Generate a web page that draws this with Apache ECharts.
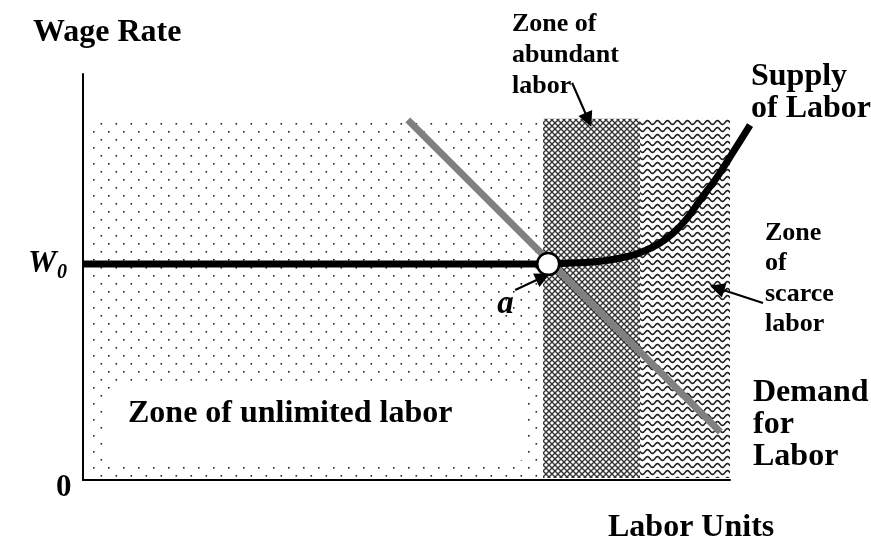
<!DOCTYPE html>
<html><head><meta charset="utf-8">
<script src="https://cdn.jsdelivr.net/npm/echarts@6/dist/echarts.min.js"></script>
<style>html,body{margin:0;padding:0;background:#fff}#c{width:871px;height:548px}</style>
</head><body><div id="c"></div>
<script>
// ---- data (arbitrary units: labor units 0-100 on x, wage rate 0-100 on y) ----
const zoneNames = ['unlimited', 'abundant', 'scarce'];
const zoneStart = [1, 71.1, 86.1];
const zoneEnd = [71.1, 86.1, 100];
const zoneBottom = 0.5;
const zoneTop = 89;
const W0 = 53.2;
const supplyX = [0, 71.9, 73.7, 79.9, 85.0, 88.7, 91.2, 93.4, 95.4, 98.0, 100.5, 103.1];
const supplyY = [53.2, 53.2, 53.3, 53.9, 55.4, 57.9, 60.8, 64.5, 69.0, 74.6, 80.8, 87.4];
const demandX = [50.2, 98.5];
const demandY = [88.7, 11.8];
const pointA = [71.9, 53.2];
const arrowFrom = [[75.6, 97.8], [66.8, 46.8], [105.1, 43.6]];
const arrowTo = [[78.1, 88.7], [71.1, 50.0], [98.0, 47.3]];

// ---- fill textures ----
function mk(w, h, draw) {
  const c = document.createElement('canvas'); c.width = w; c.height = h;
  const g = c.getContext('2d'); draw(g, w, h); return { image: c, repeat: 'repeat' };
}
const patterns = [
  mk(15, 16, (g) => { g.fillStyle = '#fff'; g.fillRect(0, 0, 15, 16); g.fillStyle = '#222';
    g.fillRect(3, 3, 1.6, 1.6); g.fillRect(10.5, 11, 1.6, 1.6); }),
  mk(6, 6, (g) => { g.fillStyle = '#fff'; g.fillRect(0, 0, 6, 6); g.strokeStyle = '#333'; g.lineWidth = 1.35;
    for (const dx of [-6, 0, 6]) { g.beginPath(); g.moveTo(dx, 0); g.lineTo(dx + 6, 6); g.stroke();
      g.beginPath(); g.moveTo(dx + 6, 0); g.lineTo(dx, 6); g.stroke(); } }),
  mk(10, 7, (g) => { g.fillStyle = '#fff'; g.fillRect(0, 0, 10, 7); g.strokeStyle = '#222'; g.lineWidth = 1.6;
    g.beginPath(); for (let x = -1; x <= 11; x += 0.25) { const y = 3.5 + 1.9 * Math.sin(2 * Math.PI * x / 10);
      if (x === -1) g.moveTo(x, y); else g.lineTo(x, y); } g.stroke(); })
];

const chart = echarts.init(document.getElementById('c'), null, { renderer: 'canvas' });
const FONT = '"Liberation Serif", "Times New Roman", serif';

chart.setOption({
  animation: false,
  backgroundColor: '#fff',
  grid: { left: 83, right: 141, top: 74, bottom: 68 },
  xAxis: { type: 'value', min: 0, max: 100, axisLine: { lineStyle: { color: '#000', width: 2 } },
    axisTick: { show: false }, axisLabel: { show: false }, splitLine: { show: false } },
  yAxis: { type: 'value', min: 0, max: 100, axisLine: { show: true, lineStyle: { color: '#000', width: 2 } },
    axisTick: { show: false }, axisLabel: { show: false }, splitLine: { show: false } },
  series: [
    { type: 'custom', silent: true, z: 1,
      data: zoneStart.map((s, i) => [s, zoneEnd[i], zoneBottom, zoneTop, i]),
      encode: { x: [0, 1], y: [2, 3] },
      renderItem: (params, api) => {
        const p0 = api.coord([api.value(0), api.value(3)]);
        const p1 = api.coord([api.value(1), api.value(2)]);
        return { type: 'rect', shape: { x: p0[0], y: p0[1], width: p1[0] - p0[0], height: p1[1] - p0[1] },
          style: { fill: patterns[api.value(4)] } };
      } },
    { type: 'line', name: 'Demand for Labor', z: 3, clip: false, showSymbol: false, silent: true,
      data: demandX.map((x, i) => [x, demandY[i]]),
      lineStyle: { color: '#808080', width: 7, cap: 'butt' } },
    { type: 'custom', name: 'Supply of Labor', z: 4, clip: false, silent: true,
      data: [[supplyX[0], supplyY[0]]],
      encode: { x: 0, y: 1 },
      renderItem: (params, api) => ({
        type: 'polyline',
        shape: { points: supplyX.map((x, i) => api.coord([x, supplyY[i]])), smooth: 0.3 },
        style: { stroke: '#000', lineWidth: 7, fill: null, lineCap: 'butt', lineJoin: 'round' }
      }) },
    { type: 'scatter', z: 5, clip: false, silent: true, data: [pointA], symbolSize: 22,
      itemStyle: { color: '#fff', borderColor: '#000', borderWidth: 2.5, opacity: 1 } },
    { type: 'lines', coordinateSystem: 'cartesian2d', z: 6, clip: false, silent: true,
      symbol: ['none', 'triangle'], symbolSize: [11, 15],
      lineStyle: { color: '#000', width: 2.2, opacity: 1, curveness: 0 },
      data: arrowFrom.map((f, i) => ({ coords: [f, arrowTo[i]] })) }
  ]
});

function txt(str, x, baseline, size, lh, extra) {
  extra = extra || {};
  const padTop = extra.padding ? extra.padding[0] : 0;
  const padLeft = extra.padding ? extra.padding[3] : 0;
  return { type: 'text', z: 100, silent: true,
    x: x - padLeft, y: baseline - 0.305 * size - lh / 2 - padTop,
    style: Object.assign({ text: str, fontFamily: FONT, fontWeight: 'bold', fontSize: size,
      fontStyle: extra.italic ? 'italic' : 'normal', lineHeight: lh, fill: '#000',
      align: 'left', verticalAlign: 'top' }, extra.style || {}) };
}

const pW0 = chart.convertToPixel({ gridIndex: 0 }, [0, W0]);
const pO = chart.convertToPixel({ gridIndex: 0 }, [0, 0]);
const pA = chart.convertToPixel({ gridIndex: 0 }, pointA);

chart.setOption({
  graphic: [
    txt('Wage Rate', 33, 42, 32, 32),
    txt('Labor Units', 608, 537, 32, 32),
    txt('Zone of\nabundant\nlabor', 512, 32, 26, 31),
    txt('Supply\nof Labor', 751, 86, 32, 32),
    txt('Zone\nof\nscarce\nlabor', 765, 241, 26, 30.5),
    txt('Demand\nfor\nLabor', 753, 402, 32, 32),
    txt('Zone of unlimited labor', 128, 423, 32, 32,
      { padding: [12, 75, 32, 21], style: { backgroundColor: '#fff', borderRadius: 10, padding: [12, 75, 32, 21] } }),
    txt('W', pW0[0] - 55, pW0[1] + 9, 32, 32, { italic: true }),
    txt('0', pW0[0] - 26, pW0[1] + 15, 20, 20, { italic: true }),
    txt('0', pO[0] - 27, pO[1] + 17, 31, 31),
    txt('a', pA[0] - 51, pA[1] + 51, 33, 33, { italic: true })
  ]
});
</script></body></html>
